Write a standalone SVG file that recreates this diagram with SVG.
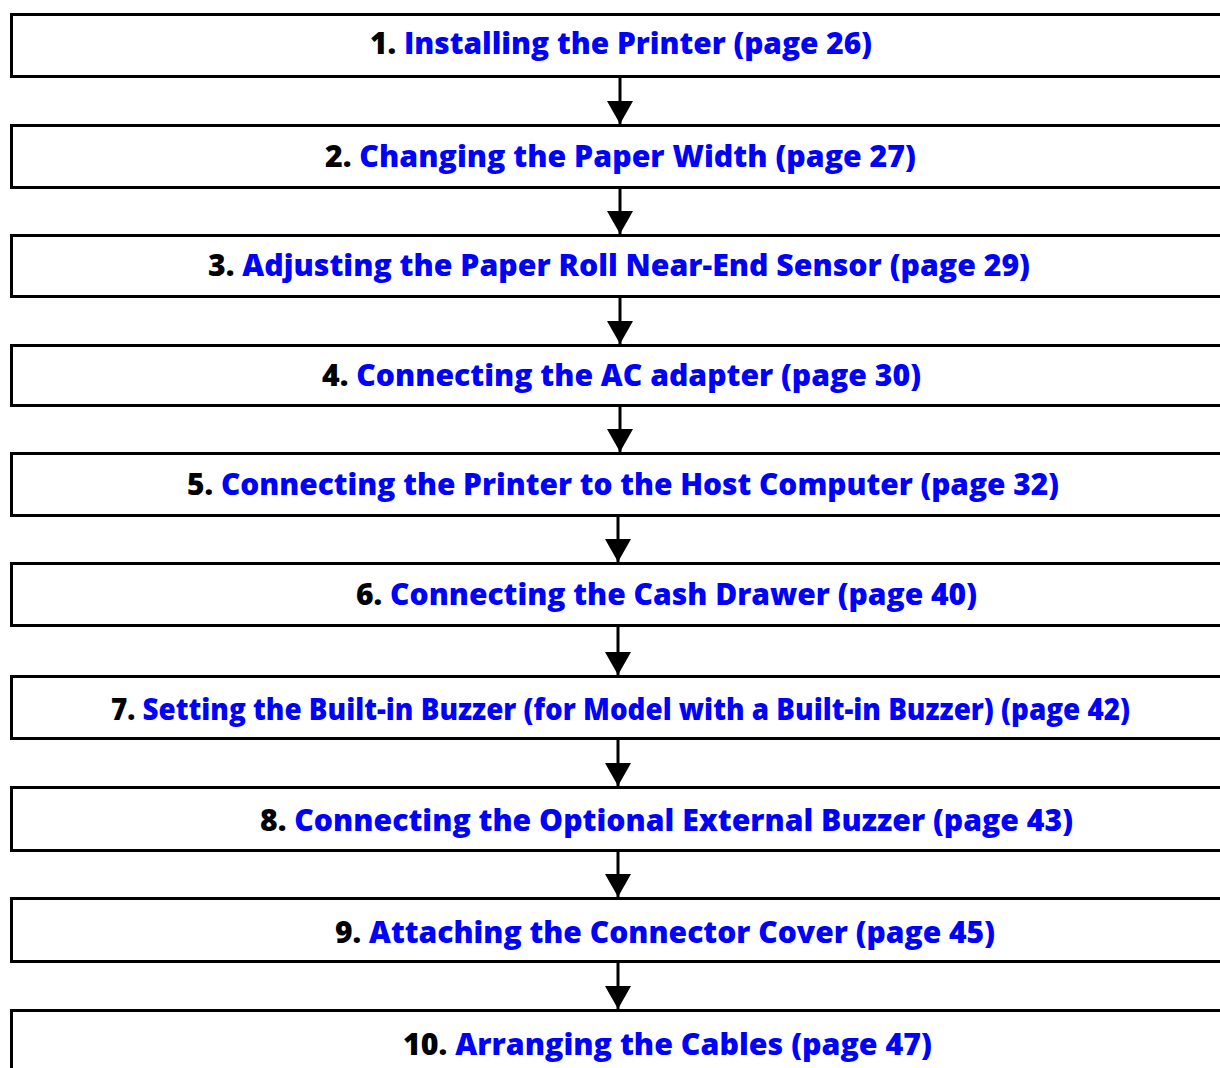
<svg xmlns="http://www.w3.org/2000/svg" width="1220" height="1068" viewBox="0 0 1220 1068">
<defs>
<style>
.box{fill:#fff;stroke:#000;stroke-width:3}
.t{font-family:"Open Sans","Liberation Sans",sans-serif;font-weight:800;font-size:30px}
.n{fill:#000}
.l{fill:#0000ff}
.c{stroke:#000;stroke-width:3;fill:none}
</style>
<marker id="ah" markerUnits="userSpaceOnUse" viewBox="0 0 23 26" refX="23" refY="13" markerWidth="23" markerHeight="26" orient="auto">
<path d="M0,0 L23,13 L0,26 Z" fill="#000"/>
</marker>
</defs>
<rect width="1220" height="1068" fill="#fff"/>
<g id="connectors">
<line class="c" x1="620" y1="78" x2="620" y2="124" marker-end="url(#ah)"/>
<line class="c" x1="620" y1="189" x2="620" y2="234" marker-end="url(#ah)"/>
<line class="c" x1="620" y1="298" x2="620" y2="344" marker-end="url(#ah)"/>
<line class="c" x1="620" y1="407" x2="620" y2="452" marker-end="url(#ah)"/>
<line class="c" x1="618" y1="517" x2="618" y2="562" marker-end="url(#ah)"/>
<line class="c" x1="618" y1="627" x2="618" y2="675" marker-end="url(#ah)"/>
<line class="c" x1="618" y1="740" x2="618" y2="786" marker-end="url(#ah)"/>
<line class="c" x1="618" y1="852" x2="618" y2="897" marker-end="url(#ah)"/>
<line class="c" x1="618" y1="963" x2="618" y2="1009" marker-end="url(#ah)"/>
</g>
<g id="n1"><rect class="box" x="11.5" y="14.5" width="1230" height="62"/>
<text class="t" x="370" y="54" textLength="502" lengthAdjust="spacingAndGlyphs"><tspan class="n">1. </tspan><tspan class="l">Installing the Printer (page 26)</tspan></text></g>
<g id="n2"><rect class="box" x="11.5" y="125.5" width="1230" height="62"/>
<text class="t" x="325" y="167" textLength="591" lengthAdjust="spacingAndGlyphs"><tspan class="n">2. </tspan><tspan class="l">Changing the Paper Width (page 27)</tspan></text></g>
<g id="n3"><rect class="box" x="11.5" y="235.5" width="1230" height="61"/>
<text class="t" x="208" y="276" textLength="822" lengthAdjust="spacingAndGlyphs"><tspan class="n">3. </tspan><tspan class="l">Adjusting the Paper Roll Near-End Sensor (page 29)</tspan></text></g>
<g id="n4"><rect class="box" x="11.5" y="345.5" width="1230" height="60"/>
<text class="t" x="322" y="386" textLength="599" lengthAdjust="spacingAndGlyphs"><tspan class="n">4. </tspan><tspan class="l">Connecting the AC adapter (page 30)</tspan></text></g>
<g id="n5"><rect class="box" x="11.5" y="453.5" width="1230" height="62"/>
<text class="t" x="187" y="495" textLength="872" lengthAdjust="spacingAndGlyphs"><tspan class="n">5. </tspan><tspan class="l">Connecting the Printer to the Host Computer (page 32)</tspan></text></g>
<g id="n6"><rect class="box" x="11.5" y="563.5" width="1230" height="62"/>
<text class="t" x="356" y="605" textLength="621" lengthAdjust="spacingAndGlyphs"><tspan class="n">6. </tspan><tspan class="l">Connecting the Cash Drawer (page 40)</tspan></text></g>
<g id="n7"><rect class="box" x="11.5" y="676.5" width="1230" height="62"/>
<text class="t" x="111" y="720" textLength="1019" lengthAdjust="spacingAndGlyphs"><tspan class="n">7. </tspan><tspan class="l">Setting the Built-in Buzzer (for Model with a Built-in Buzzer) (page 42)</tspan></text></g>
<g id="n8"><rect class="box" x="11.5" y="787.5" width="1230" height="63"/>
<text class="t" x="260" y="831" textLength="813" lengthAdjust="spacingAndGlyphs"><tspan class="n">8. </tspan><tspan class="l">Connecting the Optional External Buzzer (page 43)</tspan></text></g>
<g id="n9"><rect class="box" x="11.5" y="898.5" width="1230" height="63"/>
<text class="t" x="335" y="943" textLength="660" lengthAdjust="spacingAndGlyphs"><tspan class="n">9. </tspan><tspan class="l">Attaching the Connector Cover (page 45)</tspan></text></g>
<g id="n10"><rect class="box" x="11.5" y="1010.5" width="1230" height="80"/>
<text class="t" x="403" y="1055" textLength="529" lengthAdjust="spacingAndGlyphs"><tspan class="n">10. </tspan><tspan class="l">Arranging the Cables (page 47)</tspan></text></g>
</svg>
